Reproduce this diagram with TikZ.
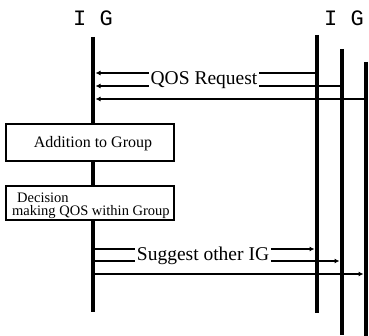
\documentclass[tikz,border=0pt]{standalone}
\usepackage{fontspec}
\setmainfont{Liberation Serif}
\newfontfamily\igfont{Liberation Mono}
\usetikzlibrary{arrows.meta}
\begin{document}
\begin{tikzpicture}[x=1pt,y=-1pt,
  life/.style={line width=4.8pt},
  wire/.style={line width=1.8pt},
  msg/.style={line width=1.8pt,-{Latex[length=5pt,width=5pt]}},
  lbl/.style={font=\fontsize{19.5}{21}\selectfont,inner sep=1.5pt},
  hdr/.style={font=\igfont\fontsize{22}{24}\selectfont,inner sep=0pt},
  box/.style={draw,line width=1.6pt,fill=white,minimum width=168pt,minimum height=37pt,inner sep=0pt},
  boxtxt/.style={font=\fontsize{14.5}{15}\selectfont,inner sep=0pt}]
\useasboundingbox (0,0) rectangle (369,336);
% lifelines
\coordinate (Lt) at (93,37);  \coordinate (Lb) at (93,312);
\coordinate (R1t) at (317,35); \coordinate (R1b) at (317,313);
\coordinate (R2t) at (342,49); \coordinate (R2b) at (342,335);
\coordinate (R3t) at (366,62); \coordinate (R3b) at (366,340);
\draw[life] (Lt) -- (Lb);
\draw[life] (R1t) -- (R1b);
\draw[life] (R2t) -- (R2b);
\draw[life] (R3t) -- (R3b);
% headers
\node[hdr] (igL) at (93,18) {I G};
\node[hdr] (igR) at (344,18) {I G};
% top messages
\node[lbl] (qos) at (204,80) {QOS Request};
\coordinate (a1s) at (317,73); \coordinate (a1e) at (95.5,73);
\coordinate (a2s) at (342,86); \coordinate (a2e) at (95.5,86);
\coordinate (a3s) at (366,99); \coordinate (a3e) at (95.5,99);
\draw[wire] (a1s) -- (qos.east |- a1s);
\draw[msg] (qos.west |- a1s) -- (a1e);
\draw[wire] (a2s) -- (qos.east |- a2s);
\draw[msg] (qos.west |- a2s) -- (a2e);
\draw[msg] (a3s) -- (a3e);
% boxes
\node[box] (add) at (90,142.5) {};
\node[boxtxt,font=\fontsize{16}{17}\selectfont] (addt) at (93,144) {Addition to Group};
\node[box,minimum height=34pt] (dec) at (90,203) {};
\node[boxtxt,anchor=base west] (dec1) at (17,202.5) {Decision};
\node[boxtxt,anchor=base west] (dec2) at (12,216) {making QOS within Group};
% bottom messages
\node[lbl] (sug) at (203,256) {Suggest other IG};
\coordinate (b1s) at (93,249); \coordinate (b1e) at (314.5,249);
\coordinate (b2s) at (93,261); \coordinate (b2e) at (339.5,261);
\coordinate (b3s) at (93,274); \coordinate (b3e) at (363.5,274);
\draw[wire] (b1s) -- (sug.west |- b1s);
\draw[msg] (sug.east |- b1s) -- (b1e);
\draw[wire] (b2s) -- (sug.west |- b2s);
\draw[msg] (sug.east |- b2s) -- (b2e);
\draw[msg] (b3s) -- (b3e);
\end{tikzpicture}
\end{document}
